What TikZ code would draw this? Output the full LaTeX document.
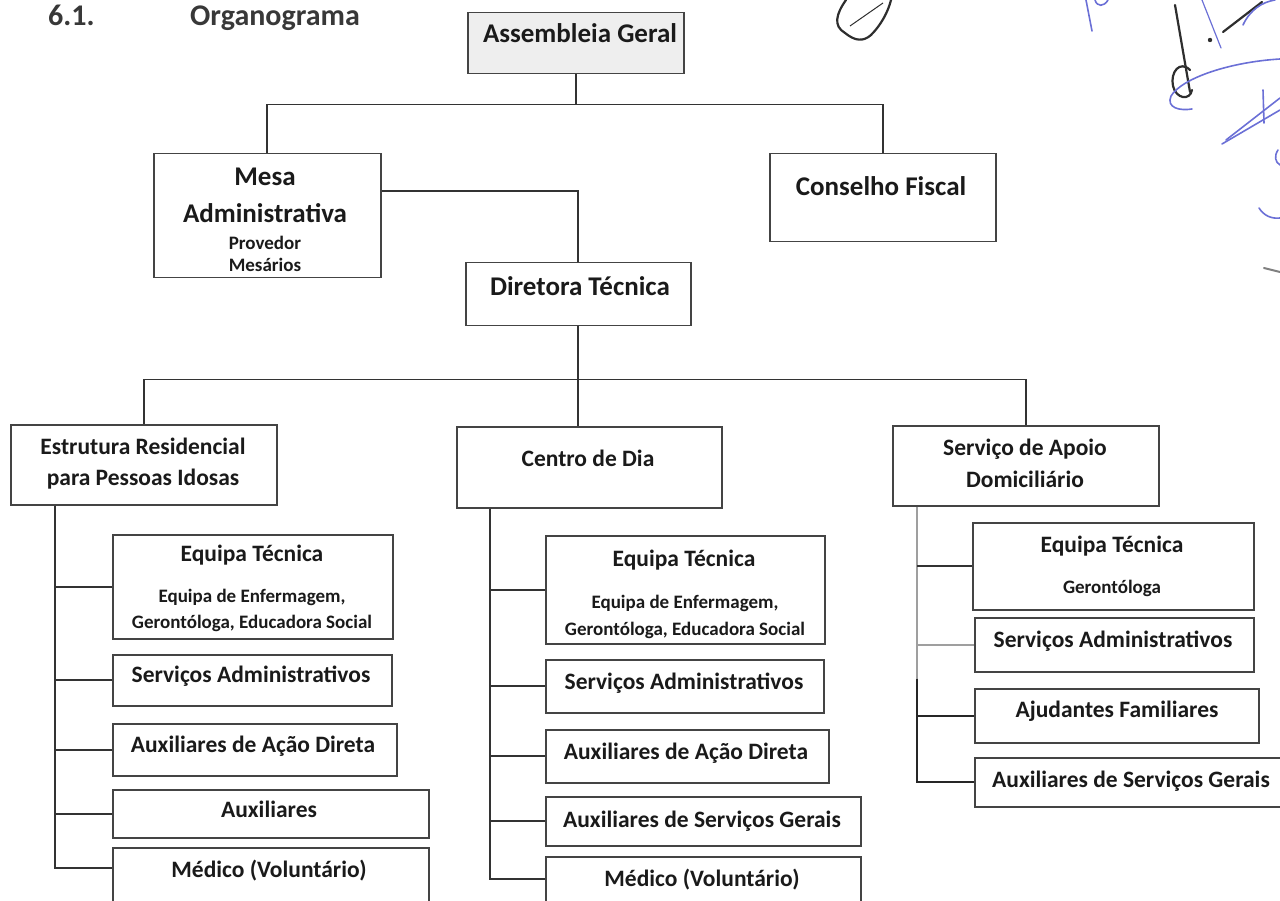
\documentclass[tikz,border=0pt]{standalone}
\usepackage{fontspec}
\setmainfont{Carlito}
\usetikzlibrary{calc}
\definecolor{ln}{HTML}{333333}
\definecolor{bc}{HTML}{444444}
\definecolor{tx}{HTML}{1A1A1A}
\definecolor{hd}{HTML}{383838}
\definecolor{pen}{HTML}{6B70D6}
\definecolor{ink}{HTML}{2E2E2E}
\definecolor{asmfill}{HTML}{EEEEEE}
\tikzset{
  orgbox/.style={draw=bc, line width=1.5pt, fill=white, rectangle, inner sep=0pt, anchor=north west},
  tbig/.style={font=\bfseries\fontsize{27}{30}\selectfont, text=tx, anchor=base, inner sep=0pt},
  tmed/.style={font=\bfseries\fontsize{23.5}{26}\selectfont, text=tx, anchor=base, inner sep=0pt},
  tsml/.style={font=\bfseries\fontsize{19}{22}\selectfont, text=tx, anchor=base, inner sep=0pt},
  thead/.style={font=\bfseries\fontsize{30}{34}\selectfont, text=hd, anchor=base west, inner sep=0pt},
  conn/.style={draw=ln, line width=1.6pt},
  penline/.style={draw=pen, line width=1.6pt, line cap=round},
  inkline/.style={draw=ink, line width=2.2pt, line cap=round},
}
\newcommand\orgbx[6][]{\node[orgbox,#1, minimum width={#5-#3}, minimum height={#6-#4}] (#2) at (#3,#4) {};}
\begin{document}
\begin{tikzpicture}[x=1pt,y=-1pt]
\useasboundingbox (0,0) rectangle (1280,901);
\clip (0,0) rectangle (1280,901);

% heading
\node[thead] (hnum) at (48,26) {6.1.};
\node[thead] (horg) at (190,26) {Organograma};

% boxes
\orgbx[fill=asmfill]{asm}{467}{12}{683}{73}
\orgbx{mesa}{153}{153}{380}{277}
\orgbx{cf}{769}{153}{995}{241}
\orgbx{dir}{465}{262}{690}{325}
\orgbx{erpi}{10}{424}{276}{504}
\orgbx{cd}{456}{426}{721}{507}
\orgbx{sad}{892}{425}{1158}{505}
\orgbx{e1}{112}{534}{392}{638}
\orgbx{s1}{112}{654}{391}{705}
\orgbx{a1}{112}{723}{396}{775}
\orgbx{x1}{112}{789}{428}{837}
\orgbx{m1}{112}{847}{428}{915}
\orgbx{e2}{545}{535}{824}{643}
\orgbx{s2}{545}{659}{823}{712}
\orgbx{a2}{545}{729}{828}{782}
\orgbx{g2}{545}{796}{860}{845}
\orgbx{m2}{545}{856}{860}{920}
\orgbx{e3}{972}{522}{1253}{609}
\orgbx{s3}{974}{617}{1253}{671}
\orgbx{f3}{974}{688}{1258}{742}
\orgbx{g3}{974}{757}{1295}{806}

% connectors top
\draw[conn] (asm.south) -- ++(0,30) coordinate (hb);
\draw[conn] (mesa.north) |- (hb) -| (cf.north);
\draw[conn] (mesa.north east) ++(0,38) -| (dir.north);
\draw[conn] (dir.south) -- ++(0,53) coordinate (hc);
\draw[conn] (erpi.north) |- (hc) -| (sad.north);
\draw[conn] (hc) -- (hc |- cd.north);

% ERPI trunk
\coordinate (t1) at ($(erpi.south west)+(45,0)$);
\draw[conn] (t1) |- (e1.west);
\draw[conn] (t1) |- (s1.west);
\draw[conn] (t1) |- (a1.west);
\draw[conn] (t1) |- (x1.west);
\draw[conn] (t1) |- ($(m1.north west)+(0,21)$);

% Centro trunk
\coordinate (t2) at ($(cd.south west)+(34,0)$);
\draw[conn] (t2) |- (e2.west);
\draw[conn] (t2) |- (s2.west);
\draw[conn] (t2) |- (a2.west);
\draw[conn] (t2) |- (g2.west);
\draw[conn] (t2) |- ($(m2.north west)+(0,23)$);

% SAD trunk
\coordinate (t3) at ($(sad.south west)+(25,0)$);
\coordinate (t3b) at ($(t3)+(0,172)$);
\draw[conn, draw=gray!75] (t3) -- (t3b);
\draw[conn] (t3 |- e3.west) -- (e3.west);
\draw[conn, draw=gray!75] (t3 |- s3.west) -- (s3.west);
\draw[conn, draw=black!85, line width=1.9pt] (t3b) |- (f3.west);
\draw[conn, draw=black!85, line width=1.9pt] (t3b) |- (g3.west);

% texts
\node[tbig] (lasm) at (580,43) {Assembleia Geral};
\node[tbig] (lmesa1) at (265,186) {Mesa};
\node[tbig] (lmesa2) at (265,223) {Administrativa};
\node[tsml] (lmesa3) at (265,250) {Provedor};
\node[tsml] (lmesa4) at (265,272) {Mesários};
\node[tbig] (lcf) at (881,196) {Conselho Fiscal};
\node[tbig] (ldir) at (580,296) {Diretora Técnica};

\node[tmed] (lerpi1) at (143,454) {Estrutura Residencial};
\node[tmed] (lerpi2) at (143,485) {para Pessoas Idosas};
\node[tmed] (lcd) at (588,466) {Centro de Dia};
\node[tmed] (lsad1) at (1025,455) {Serviço de Apoio};
\node[tmed] (lsad2) at (1025,487) {Domiciliário};

\node[tmed] (le1) at (252,561) {Equipa Técnica};
\node[tsml] (le1b) at (252,602) {Equipa de Enfermagem,};
\node[tsml] (le1c) at (252,628) {Gerontóloga, Educadora Social};
\node[tmed] (ls1) at (251,682) {Serviços Administrativos};
\node[tmed] (la1) at (253,752) {Auxiliares de Ação Direta};
\node[tmed] (lx1) at (269,817) {Auxiliares};
\node[tmed] (lm1) at (269,877) {Médico (Voluntário)};

\node[tmed] (le2) at (684,566) {Equipa Técnica};
\node[tsml] (le2b) at (685,608) {Equipa de Enfermagem,};
\node[tsml] (le2c) at (685,635) {Gerontóloga, Educadora Social};
\node[tmed] (ls2) at (684,689) {Serviços Administrativos};
\node[tmed] (la2) at (686,759) {Auxiliares de Ação Direta};
\node[tmed] (lg2) at (702,827) {Auxiliares de Serviços Gerais};
\node[tmed] (lm2) at (702,886) {Médico (Voluntário)};

\node[tmed] (le3) at (1112,552) {Equipa Técnica};
\node[tsml] (le3b) at (1112,593) {Gerontóloga};
\node[tmed] (ls3) at (1113,647) {Serviços Administrativos};
\node[tmed] (lf3) at (1117,717) {Ajudantes Familiares};
\node[tmed] (lg3) at (1131,787) {Auxiliares de Serviços Gerais};

% handwritten marks
\draw[inkline] (846,0) .. controls (836,14) and (833,26) .. (845,33) .. controls (855,41) and (863,42) .. (871,35) .. controls (881,25) and (888,12) .. (891,0);
\draw[ink, line width=1pt] (850,26) -- (883,3);
\draw[penline] (1086,0) -- (1092,31);
\draw[penline] (1095,0) .. controls (1097,7) and (1104,7) .. (1108,0);
\draw[inkline] (1175,5) -- (1190,92);
\draw[inkline] (1190,70) .. controls (1180,60) and (1170,72) .. (1173,86) .. controls (1176,99) and (1190,101) .. (1192,90);
\fill[ink] (1210,40) circle (2.2);
\draw[inkline] (1223,32) -- (1262,2);
\draw[penline, line width=1.2pt] (1202,0) -- (1221,48);
\draw[penline] (1243,25) .. controls (1250,10) and (1262,2) .. (1275,0);
\draw[penline] (1280,59) .. controls (1230,62) and (1182,78) .. (1171,96) .. controls (1166,108) and (1180,111) .. (1192,109);
\draw[penline] (1222,144) -- (1280,110);
\draw[penline] (1226,140) -- (1280,98);
\draw[penline] (1263,90) -- (1264,123);
\draw[penline] (1278,150) .. controls (1274,156) and (1275,162) .. (1280,165);
\draw[penline] (1259,208) .. controls (1264,216) and (1272,219) .. (1280,218);
\draw[ink, line width=2pt, line cap=round, draw=gray] (1264,268) -- (1280,272);
\end{tikzpicture}
\end{document}
